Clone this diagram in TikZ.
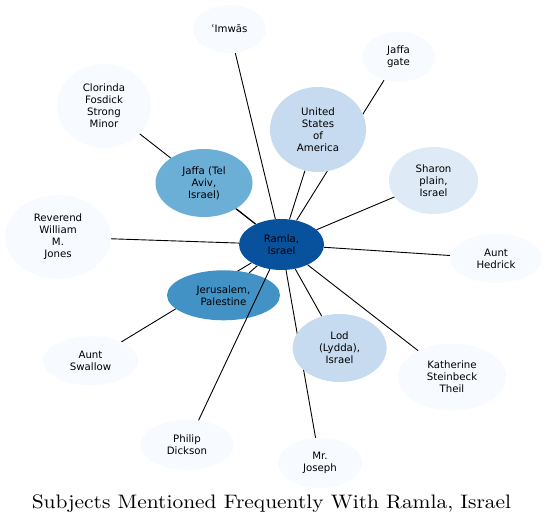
\documentclass[tikz,border=0pt]{standalone}
\usepackage{fontspec}
\newfontfamily\labelfont{DejaVu Sans}
\newfontfamily\titlefont{lmroman10-regular.otf}[FakeStretch=1.1]
\usepackage{tikz}
\usetikzlibrary{shapes.geometric,backgrounds}

\definecolor{blueA}{HTML}{08519C}
\definecolor{blueB}{HTML}{4292C6}
\definecolor{blueC}{HTML}{6BAED6}
\definecolor{blueD}{HTML}{C6DBEF}
\definecolor{blueE}{HTML}{DEEBF7}
\definecolor{blueF}{HTML}{F7FBFF}

\tikzset{
	subject/.style={ellipse, inner sep=0pt, align=center, font=\labelfont\fontsize{10.2}{12}\selectfont},
	link/.style={line width=0.9pt},
}
\def\subj[#1](#2)(#3,#4:#5:#6)#7{\node[subject, fill=#1, minimum width=#5pt, minimum height=#6pt] (#2) at (#3,#4) {#7};}

\begin{document}
\begin{tikzpicture}[x=1pt, y=-1pt]
		%%%%% START %%%%%
		\useasboundingbox (0,0) rectangle (545,524);
		
		\subj[blueA](ramla)(281.5,244.5:85:51){Ramla,\\Israel}
		\subj[blueC](jaffa)(204,183:97:68){Jaffa (Tel\\Aviv,\\Israel)}
		\subj[blueB](jerusalem)(223.5,295.3:113:50){Jerusalem,\\Palestine}
		\subj[blueD](usa)(318,129.5:96:85){United\\States\\of\\America}
		\subj[blueD](lod)(339.6,348:94:68){Lod\\(Lydda),\\Israel}
		\subj[blueE](sharon)(433.5,180.5:89:67){Sharon\\plain,\\Israel}
		
		\subj[blueF](imwas)(229.5,29:73:48){ʿImwās}
		\subj[blueF](jaffagate)(398.5,57:73:50){Jaffa\\gate}
		\subj[blueF](clorinda)(104,106:94:84){Clorinda\\Fosdick\\Strong\\Minor}
		\subj[blueF](reverend)(58,237:106:84){Reverend\\William\\M.\\Jones}
		\subj[blueF](hedrick)(496,258.5:92:49){Aunt\\Hedrick}
		\subj[blueF](swallow)(90.5,360.7:95:49){Aunt\\Swallow}
		\subj[blueF](katherine)(452,377:108:67){Katherine\\Steinbeck\\Theil}
		\subj[blueF](philip)(187,444.8:94:50){Philip\\Dickson}
		\subj[blueF](joseph)(320,463:84:50){Mr.\\Joseph}
		
		% links go under the ellipses
		\begin{pgfonlayer}{background}
		\foreach \other in {imwas,reverend,jaffa,clorinda,usa,jaffagate,jerusalem,swallow,sharon,hedrick,katherine,lod,joseph}
			\draw[link] (ramla) -- (\other);
		\end{pgfonlayer}
		\draw[link] (ramla) -- (philip);
		
		\node[anchor=base, font=\titlefont\fontsize{19.5}{22}\selectfont] (title) at (271.5,508) {Subjects Mentioned Frequently With Ramla, Israel};
		%%%%% END %%%%%
	\end{tikzpicture}
\end{document}
